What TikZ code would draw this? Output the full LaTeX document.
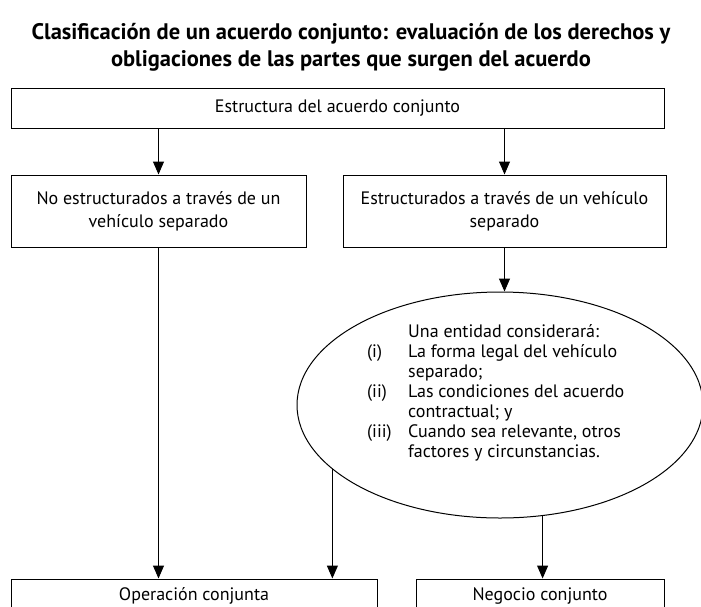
\documentclass[tikz,border=0pt]{standalone}
\usepackage{fontspec}
\setmainfont{PT Sans}
\usetikzlibrary{shapes.geometric,arrows.meta}

\begin{document}
\begin{tikzpicture}[x=1pt,y=-1pt,
  box/.style={draw, line width=1pt, inner sep=0pt, align=center, font=\fontsize{18}{23}\selectfont},
  arr/.style={-{Triangle[length=13pt,width=11pt]}, line width=1pt}]
% page frame
\useasboundingbox (0,0) rectangle (701,606);
\clip (0,0) rectangle (701,606);

% Title
\node[font=\bfseries\fontsize{22.5}{27}\selectfont, align=center] (titulo) at (351,47)
  {Clasificación de un acuerdo conjunto: evaluación de los derechos y\\
   obligaciones de las partes que surgen del acuerdo};

% Boxes
\node[box, minimum width=653, minimum height=40] (estructura) at (337.5,108) {Estructura del acuerdo conjunto};
\node[box, minimum width=295, minimum height=72] (noveh) at (158.5,211) {No estructurados a través de un\\ vehículo separado};
\node[box, minimum width=323, minimum height=72] (veh) at (504.5,211) {Estructurados a través de un vehículo\\ separado};
\node[draw, ellipse, line width=1pt, inner sep=0pt, minimum width=406, minimum height=226] (considera) at (500,405) {};
\node[font=\fontsize{18}{20}\selectfont, inner sep=0pt, anchor=west] (factores) at (367,393)
  {\begin{tabular}{@{}p{41pt}@{}l@{}}
   & Una entidad considerará:\\
   (i) & La forma legal del vehículo\\
   & separado;\\
   (ii) & Las condiciones del acuerdo\\
   & contractual; y\\
   (iii) & Cuando sea relevante, otros\\
   & factores y circunstancias.
   \end{tabular}};
\node[box, minimum width=366, minimum height=34] (operacion) at (194,596) {Operación conjunta};
\node[box, minimum width=248, minimum height=34] (negocio) at (540,596) {Negocio conjunto};

% Connectors
\draw[arr] (noveh.north |- estructura.south) -- (noveh.north);
\draw[arr] (veh.north |- estructura.south) -- (veh.north);
\draw[arr] (veh.south) -- (veh.south |- considera.north);
\draw[arr] (noveh.south) -- (noveh.south |- operacion.north);
\draw[arr] (considera.201.4) -- (considera.201.4 |- operacion.north);
\draw[arr] (considera.291.8) -- (considera.291.8 |- negocio.north);
\end{tikzpicture}
\end{document}
